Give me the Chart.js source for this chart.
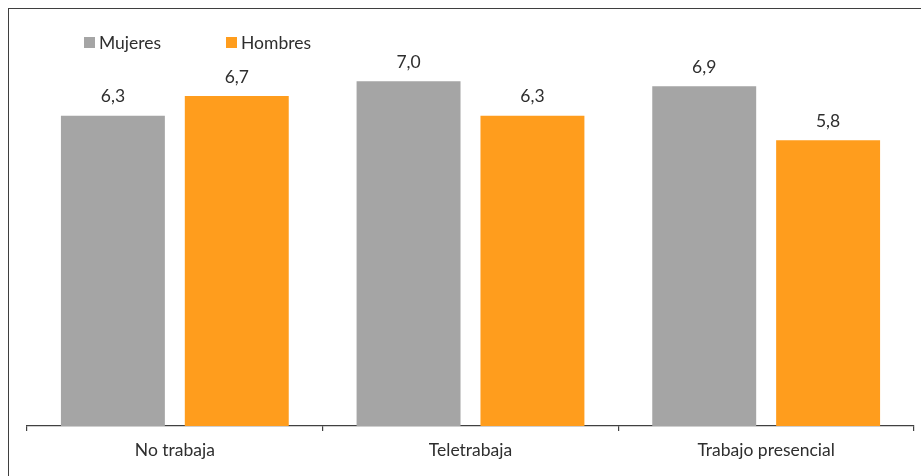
<!DOCTYPE html>
<html>
<head>
<meta charset="utf-8">
<script src="https://cdn.jsdelivr.net/npm/chart.js@4/dist/chart.umd.min.js"></script>
<style>
  html, body { margin: 0; padding: 0; background: #ffffff; }
  #wrap { position: relative; width: 921px; height: 476px; overflow: hidden; }
  #frame { position: absolute; left: 8px; top: 8px; width: 960px; height: 520px;
           border: 1.5px solid #3f3f3f; box-sizing: border-box; }
  #chart { position: absolute; left: 0; top: 0; }
</style>
</head>
<body>
<div id="wrap">
  <div id="frame"></div>
  <canvas id="chart" width="921" height="476"></canvas>
</div>
<script>
const categories = ['No trabaja', 'Teletrabaja', 'Trabajo presencial'];
const mujeres = [6.3, 7.0, 6.9];
const hombres = [6.7, 6.3, 5.8];
const seriesNames = ['Mujeres', 'Hombres'];
const seriesColors = ['#a5a5a5', '#ff9d1d'];

const TEXT = '#2e2e2e';
const FONT_FAMILY = 'Lato, "Liberation Sans", sans-serif';
const FONT = '17.5px ' + FONT_FAMILY;

// Value labels above each bar, written with a decimal comma
const valueLabels = {
  id: 'valueLabels',
  afterDatasetsDraw(chart) {
    const ctx = chart.ctx;
    ctx.save();
    ctx.font = FONT;
    ctx.fillStyle = TEXT;
    ctx.textAlign = 'center';
    ctx.textBaseline = 'middle';
    chart.data.datasets.forEach((ds, i) => {
      chart.getDatasetMeta(i).data.forEach((bar, j) => {
        const txt = ds.data[j].toFixed(1).replace('.', ',');
        ctx.fillText(txt, bar.x, bar.y - 19);
      });
    });
    ctx.restore();
  }
};

// Legend drawn inside the plot area, top left
const topLegend = {
  id: 'topLegend',
  afterDraw(chart) {
    const ctx = chart.ctx;
    const starts = [84, 226];
    ctx.save();
    ctx.font = FONT;
    ctx.textBaseline = 'middle';
    ctx.textAlign = 'left';
    chart.data.datasets.forEach((ds, i) => {
      const x = starts[i];
      ctx.fillStyle = ds.backgroundColor;
      ctx.fillRect(x, 37, 11, 11);
      ctx.fillStyle = TEXT;
      ctx.fillText(ds.label, x + 15, 43);
    });
    ctx.restore();
  }
};

new Chart(document.getElementById('chart'), {
  type: 'bar',
  data: {
    labels: categories,
    datasets: [
      { label: seriesNames[0], data: mujeres, backgroundColor: seriesColors[0] },
      { label: seriesNames[1], data: hombres, backgroundColor: seriesColors[1] }
    ]
  },
  options: {
    responsive: false,
    animation: false,
    devicePixelRatio: 1,
    categoryPercentage: 0.838,
    barPercentage: 0.839,
    layout: { padding: { left: 27, right: 7, top: 32, bottom: 0 } },
    plugins: {
      legend: { display: false },
      tooltip: { enabled: false }
    },
    scales: {
      x: {
        offset: true,
        grid: {
          offset: true,
          display: true,
          drawOnChartArea: false,
          drawTicks: true,
          tickLength: 5,
          color: '#404040',
          lineWidth: 1.2
        },
        border: { display: true, color: '#404040', width: 1.2 },
        ticks: { color: TEXT, font: { family: FONT_FAMILY, size: 17.5 }, padding: 9, maxRotation: 0 },
        afterFit(scale) { scale.height = 50; }
      },
      y: {
        display: false,
        min: 0,
        max: 8
      }
    }
  },
  plugins: [valueLabels, topLegend]
});
</script>
</body>
</html>
